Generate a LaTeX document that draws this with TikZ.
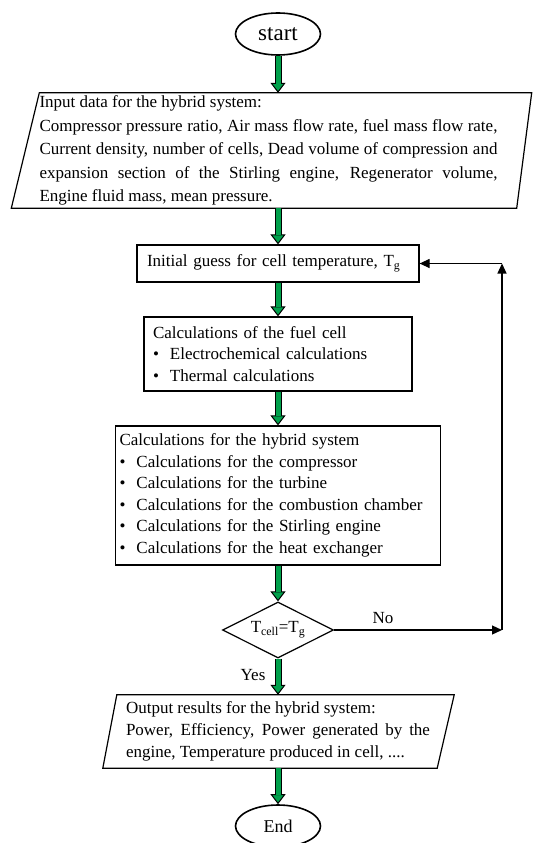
\documentclass[tikz,border=0pt]{standalone}
\usepackage{fontspec}
\setmainfont{Liberation Serif}
\usetikzlibrary{shapes.geometric,arrows.meta,calc}
\definecolor{arrowgreen}{RGB}{0,160,75}
\begin{document}
\begin{tikzpicture}[x=1pt,y=-1pt,
  box/.style={draw,line width=1.2pt,align=left,font=\fontsize{17}{21.5}\selectfont},
  terminal/.style={draw,ellipse,line width=1.6pt,minimum width=85pt,minimum height=42pt,inner sep=0pt},
  iotext/.style={align=justify,inner sep=0pt},
  garrow/.style={draw=black,line width=7pt,-{Triangle[length=10pt,width=15pt,line width=1pt,fill=arrowgreen]},
    postaction={draw=arrowgreen,line width=5pt,-,shorten >=9pt}},
  barrow/.style={line width=1.2pt,-{Triangle[length=10pt,width=9pt]}},
  lbl/.style={font=\fontsize{17}{20}\selectfont}]
\useasboundingbox (0,0) rectangle (533,843);
\node[terminal,font=\fontsize{23}{26}\selectfont] (start) at (278,34) {start};
\node[iotext,text width=458pt,minimum height=115pt,font=\fontsize{17}{23.5}\selectfont] (input) at (268.5,150.5)
  {Input data for the hybrid system:\\
   Compressor pressure ratio, Air mass flow rate, fuel mass flow rate,\linebreak
   Current density, number of cells, Dead volume of compression and\linebreak
   expansion section of the Stirling engine, Regenerator volume,\linebreak
   Engine fluid mass, mean pressure.};
\draw[line width=1.2pt] (input.north west) -- ($(input.north east)+(34,0)$)
  -- ($(input.south east)+(19,0)$) -- ($(input.south west)+(-28,0)$) -- cycle;
\node[box,text width=262pt,minimum height=37pt,inner xsep=10pt] (initial) at (278,263.5)
  {Initial guess for cell temperature, T\textsubscript{g}};
\node[box,text width=250pt,minimum height=74pt,inner xsep=9pt] (fuel) at (278,354)
  {Calculations of the fuel cell\\
   \textbullet\hspace{11pt}Electrochemical calculations\\
   \textbullet\hspace{11pt}Thermal calculations};
\node[box,text width=317pt,minimum height=139pt,inner xsep=4pt] (hybrid) at (278,495.5)
  {Calculations for the hybrid system\\
   \textbullet\hspace{11pt}Calculations for the compressor\\
   \textbullet\hspace{11pt}Calculations for the turbine\\
   \textbullet\hspace{11pt}Calculations for the combustion chamber\\
   \textbullet\hspace{11pt}Calculations for the Stirling engine\\
   \textbullet\hspace{11pt}Calculations for the heat exchanger};
\node[draw,diamond,aspect=2,line width=1.2pt,minimum width=111pt,minimum height=56pt,inner sep=0pt,
  font=\fontsize{17}{20}\selectfont] (test) at (278,630) {T\textsubscript{cell}=T\textsubscript{g}};
\node[iotext,text width=304pt,minimum height=73pt,font=\fontsize{17}{22}\selectfont] (output) at (278,731.5)
  {Output results for the hybrid system:\\
   Power, Efficiency, Power generated by the\linebreak
   engine, Temperature produced in cell, ....};
\draw[line width=1.2pt] ($(output.north west)+(-9,0)$) -- ($(output.north east)+(24,0)$)
  -- ($(output.south east)+(7,0)$) -- ($(output.south west)+(-23,0)$) -- cycle;
\node[terminal,font=\fontsize{18}{21}\selectfont] (end) at (278,826) {End};
\node[lbl] (no) at (383,618) {No};
\node[lbl] (yes) at (253,675) {Yes};
\coordinate (fbl) at (502,630);
\coordinate (fbu) at (502,263.5);
\draw[garrow] (start.south) -- (start.south |- input.north);
\draw[garrow] (start.south |- input.south) -- (initial);
\draw[garrow] (initial) -- (fuel);
\draw[garrow] (fuel) -- (hybrid);
\draw[garrow] (hybrid) -- (test);
\draw[garrow] (test) -- (output);
\draw[garrow] (output) -- (end);
\draw[barrow] (test.east) -- (fbl);
\draw[barrow] (fbl) -- (fbu);
\draw[barrow] (fbu) -- (initial.east);
\end{tikzpicture}
\end{document}
